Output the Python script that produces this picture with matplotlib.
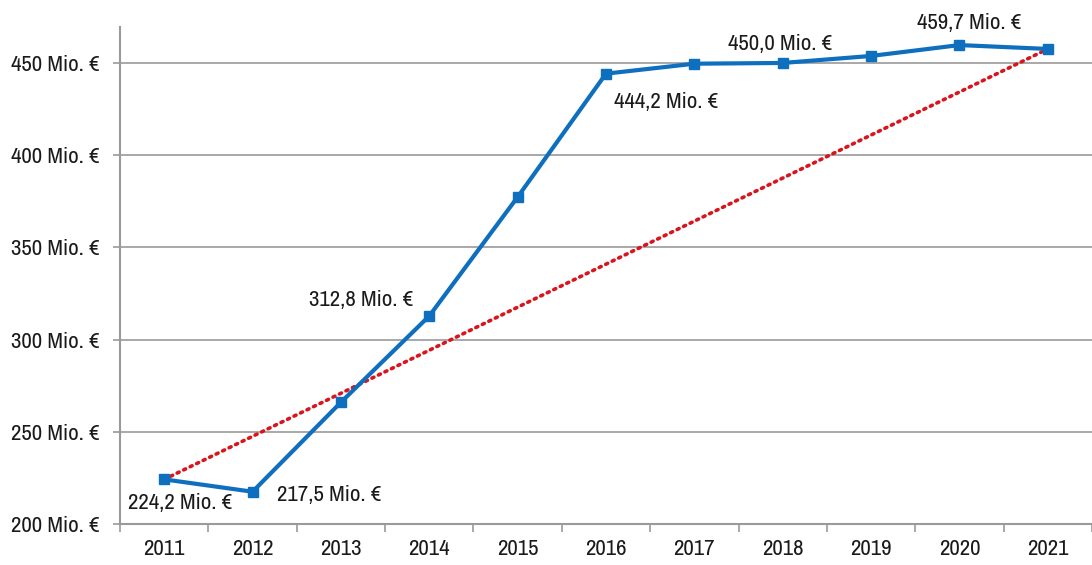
import matplotlib
matplotlib.use("Agg")
import matplotlib.pyplot as plt
from matplotlib import font_manager

years = ["2011", "2012", "2013", "2014", "2015", "2016", "2017", "2018", "2019", "2020", "2021"]
values = [224.2, 217.5, 266.0, 312.8, 377.3, 444.2, 449.6, 450.0, 453.8, 459.7, 457.6]
yticks = [200, 250, 300, 350, 400, 450]
labelled = {0: "224,2 Mio. €", 1: "217,5 Mio. €", 3: "312,8 Mio. €", 5: "444,2 Mio. €",
            7: "450,0 Mio. €", 9: "459,7 Mio. €"}
label_offsets = {0: (16, -24), 1: (77, -3), 3: (-68, 16), 5: (60, -28), 7: (-3, 19), 9: (10, 22)}

names = {f.name for f in font_manager.fontManager.ttflist}
fams = [n for n in ["Archivo Narrow", "Liberation Sans Narrow", "Liberation Sans"] if n in names]
plt.rcParams['font.family'] = fams + ['DejaVu Sans']

W, H = 1092, 565
fig = plt.figure(figsize=(W / 100, H / 100), dpi=100)
left, right, bottom, top = 120, 1092, 524, 27
ax = fig.add_axes([left / W, (H - bottom) / H, (right - left) / W, (bottom - top) / H])

x = list(range(len(years)))
ax.set_xlim(-0.5, 10.44)
ax.set_ylim(200, 469.5)

for yt in yticks[1:]:
    ax.axhline(yt, color="#9a9a9a", lw=1.2, zorder=1)

ax.plot([x[0], x[-1]], [values[0], values[-1]], color="#d9141c", lw=2.6,
        linestyle=(0, (0.6, 1.4)), dash_capstyle="round", zorder=2)
ax.plot(x, values, color="#0f6fbf", lw=3, marker="s", markersize=7.5, zorder=3)

for i, txt in labelled.items():
    ax.annotate(txt, (x[i], values[i]), xytext=label_offsets[i], textcoords="offset pixels",
                ha="center", va="center", fontsize=16.5, color="#1a1a1a")

ax.set_yticks(yticks)
ax.set_yticklabels([f"{v} Mio. €" for v in yticks])
ax.set_xticks(x)
ax.set_xticklabels(years)
ax.set_xticks([i - 0.5 for i in range(len(years) + 1)], minor=True)

for s in ["top", "right"]:
    ax.spines[s].set_visible(False)
for s in ["left", "bottom"]:
    ax.spines[s].set_color("#9a9a9a")
    ax.spines[s].set_linewidth(1.5)

ax.tick_params(axis="y", length=5, width=1.2, color="#9a9a9a", labelsize=16.5, pad=10, labelcolor="#1a1a1a")
ax.tick_params(axis="x", which="major", length=0, labelsize=16.5, pad=11, labelcolor="#1a1a1a")
ax.tick_params(axis="x", which="minor", length=6, width=1.2, color="#9a9a9a")

fig.savefig("out.png", dpi=100)
